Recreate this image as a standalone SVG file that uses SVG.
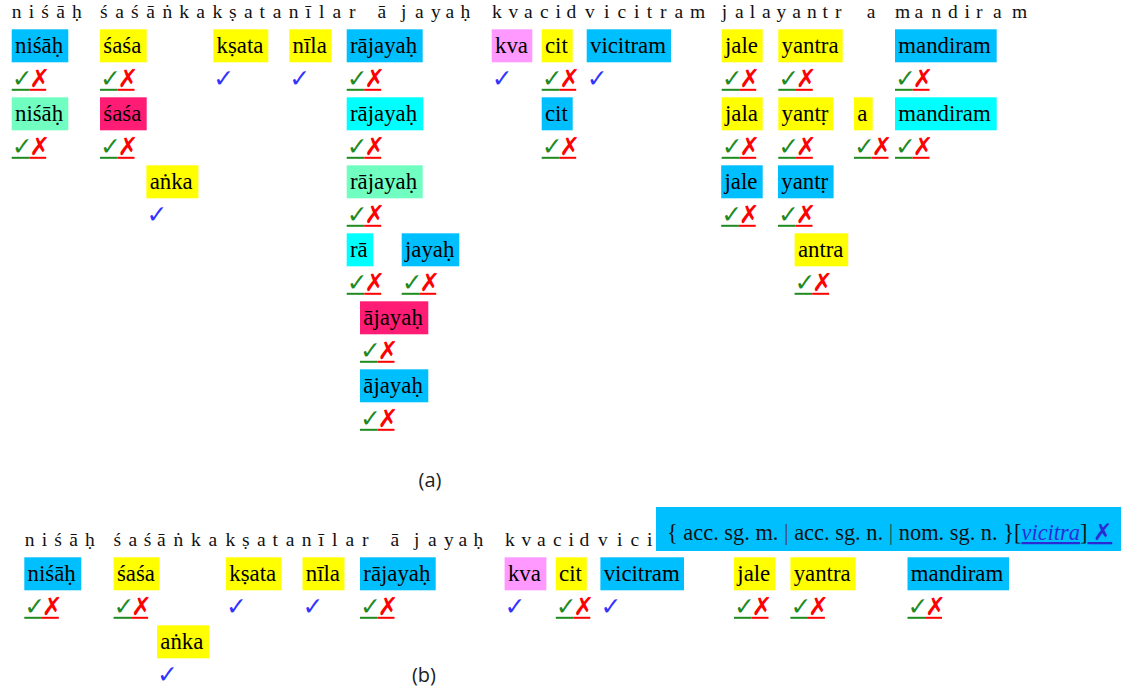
<svg xmlns="http://www.w3.org/2000/svg" xmlns:xlink="http://www.w3.org/1999/xlink" width="1121" height="695" viewBox="0 0 1121 695" font-family="'Liberation Serif','Times New Roman',serif">
<style>
.top{font-family:"Liberation Serif","Times New Roman",serif;font-size:19.5px;fill:#111}
text.wt{font-family:"Liberation Serif","Times New Roman",serif;font-size:22.8px;fill:#000;font-weight:normal}
.b{fill:#00BFFF}.y{fill:#FFFF00}.aq{fill:#70FFC0}.pk{fill:#FF99FF}.dp{fill:#FF1C74}.cy{fill:#00FFFF}
.ck{font-family:"DejaVu Sans",sans-serif;font-size:25px;fill:#1f8a1f}
.xx{font-family:"DejaVu Sans",sans-serif;font-size:25px;fill:#ff0000;font-weight:bold}
.bc{font-family:"DejaVu Sans",sans-serif;font-size:25px;fill:#3333ff}
.ug{stroke:#1f8a1f;stroke-width:2}.ur{stroke:#ff0000;stroke-width:2}
.lbl{font-family:"Open Sans","Liberation Sans",sans-serif;font-size:20px;fill:#222;text-anchor:middle}
.pop{font-family:"Liberation Serif","Times New Roman",serif;font-size:22.4px;fill:#111}
.lnk{fill:#2b2bd6;font-style:italic;text-decoration:underline}
.bar{fill:#444}
</style>
<defs>
<g id="cx"><text class="ck" x="0" y="0">✓</text><text class="xx" x="17.5" y="0">✗</text><line class="ug" x1="0" y1="2.5" x2="17.6" y2="2.5"/><line class="ur" x1="17.6" y1="2.5" x2="34.5" y2="2.5"/></g>
<g id="cb"><text class="bc" x="0" y="0">✓</text></g>
</defs>
<rect width="1121" height="695" fill="#fff"/>

<!-- (a) -->
<g id="a-sentence">
<text class="top" y="18.3"><tspan x="11.7 28.7 41.3 56.2 72">niśāḥ</tspan><tspan x="100 115.2 131.1 146.3 162.5 179.3 196.2 212.6 229.1 244 259.6 272.7 288.8 305.6 319 332.5 349">śaśāṅkakṣatanīlar</tspan><tspan x="377.5">ā</tspan><tspan x="401 415 431 445.5 460.5">jayaḥ</tspan><tspan x="492 508.5 524 540 555.5 566.5 585 604 617.5 634 646.7 660 674.5 690">kvacidvicitram</tspan><tspan x="721.7 735 749.7 762 776.5 792.3 807 822.5 835">jalayantr</tspan><tspan x="866.7">a</tspan><tspan x="895 914.5 931.5 948 964.5 976 993 1012">mandiram</tspan></text>
</g>

<g id="a-r1-nisah"><rect class="b" x="11.7" y="29.3" width="56.6" height="33"/><text class="wt" x="15" y="53.3">niśāḥ</text><use xlink:href="#cx" x="11.7" y="87.3"/></g>
<g id="a-r1-sasa"><rect class="y" x="100" y="29.3" width="46.7" height="33"/><text class="wt" x="103.3" y="53.3">śaśa</text><use xlink:href="#cx" x="100" y="87.3"/></g>
<g id="a-r1-ksata"><rect class="y" x="213.3" y="29.3" width="55" height="33"/><text class="wt" x="216.6" y="53.3">kṣata</text><use xlink:href="#cb" x="213.3" y="87.3"/></g>
<g id="a-r1-nila"><rect class="y" x="289.3" y="29.3" width="42.4" height="33"/><text class="wt" x="292.6" y="53.3">nīla</text><use xlink:href="#cb" x="289.3" y="87.3"/></g>
<g id="a-r1-rajayah"><rect class="b" x="346.7" y="29.3" width="76" height="33"/><text class="wt" x="350" y="53.3">rājayaḥ</text><use xlink:href="#cx" x="346.7" y="87.3"/></g>
<g id="a-r1-kva"><rect class="pk" x="491.7" y="29.3" width="40.6" height="33"/><text class="wt" x="495" y="53.3">kva</text><use xlink:href="#cb" x="491.7" y="87.3"/></g>
<g id="a-r1-cit"><rect class="y" x="541.7" y="29.3" width="31" height="33"/><text class="wt" x="545" y="53.3">cit</text><use xlink:href="#cx" x="541.7" y="87.3"/></g>
<g id="a-r1-vicitram"><rect class="b" x="586.7" y="29.3" width="84.3" height="33"/><text class="wt" x="590" y="53.3">vicitram</text><use xlink:href="#cb" x="586.7" y="87.3"/></g>
<g id="a-r1-jale"><rect class="y" x="721.7" y="29.3" width="41" height="33"/><text class="wt" x="725" y="53.3">jale</text><use xlink:href="#cx" x="721.7" y="87.3"/></g>
<g id="a-r1-yantra"><rect class="y" x="778.3" y="29.3" width="64.4" height="33"/><text class="wt" x="781.6" y="53.3">yantra</text><use xlink:href="#cx" x="778.3" y="87.3"/></g>
<g id="a-r1-mandiram"><rect class="b" x="895" y="29.3" width="101.7" height="33"/><text class="wt" x="898.3" y="53.3">mandiram</text><use xlink:href="#cx" x="895" y="87.3"/></g>

<g id="a-r2-nisah"><rect class="aq" x="11.7" y="97.3" width="56.6" height="33"/><text class="wt" x="15" y="121.3">niśāḥ</text><use xlink:href="#cx" x="11.7" y="155.3"/></g>
<g id="a-r2-sasa"><rect class="dp" x="100" y="97.3" width="46.7" height="33"/><text class="wt" x="103.3" y="121.3">śaśa</text><use xlink:href="#cx" x="100" y="155.3"/></g>
<g id="a-r2-rajayah"><rect class="cy" x="346.7" y="97.3" width="76.6" height="33"/><text class="wt" x="350" y="121.3">rājayaḥ</text><use xlink:href="#cx" x="346.7" y="155.3"/></g>
<g id="a-r2-cit"><rect class="b" x="541.7" y="97.3" width="31" height="33"/><text class="wt" x="545" y="121.3">cit</text><use xlink:href="#cx" x="541.7" y="155.3"/></g>
<g id="a-r2-jala"><rect class="y" x="721.7" y="97.3" width="41" height="33"/><text class="wt" x="725" y="121.3">jala</text><use xlink:href="#cx" x="721.7" y="155.3"/></g>
<g id="a-r2-yantr"><rect class="y" x="778.3" y="97.3" width="55" height="33"/><text class="wt" x="781.6" y="121.3">yantṛ</text><use xlink:href="#cx" x="778.3" y="155.3"/></g>
<g id="a-r2-a"><rect class="y" x="854" y="97.3" width="18.7" height="33"/><text class="wt" x="857.3" y="121.3">a</text><use xlink:href="#cx" x="854" y="155.3"/></g>
<g id="a-r2-mandiram"><rect class="cy" x="895" y="97.3" width="101.7" height="33"/><text class="wt" x="898.3" y="121.3">mandiram</text><use xlink:href="#cx" x="895" y="155.3"/></g>

<g id="a-r3-anka"><rect class="y" x="146.4" y="165.3" width="52" height="33"/><text class="wt" x="149.7" y="189.3">aṅka</text><use xlink:href="#cb" x="146.4" y="223.3"/></g>
<g id="a-r3-rajayah"><rect class="aq" x="346.7" y="165.3" width="76" height="33"/><text class="wt" x="350" y="189.3">rājayaḥ</text><use xlink:href="#cx" x="346.7" y="223.3"/></g>
<g id="a-r3-jale"><rect class="b" x="721.2" y="165.3" width="41.5" height="33"/><text class="wt" x="724.5" y="189.3">jale</text><use xlink:href="#cx" x="721.2" y="223.3"/></g>
<g id="a-r3-yantr"><rect class="b" x="778" y="165.3" width="55.6" height="33"/><text class="wt" x="781.3" y="189.3">yantṛ</text><use xlink:href="#cx" x="778" y="223.3"/></g>

<g id="a-r4-ra"><rect class="cy" x="346.7" y="233.3" width="26.6" height="33"/><text class="wt" x="350" y="257.3">rā</text><use xlink:href="#cx" x="346.7" y="291.3"/></g>
<g id="a-r4-jayah"><rect class="b" x="401.7" y="233.3" width="57.6" height="33"/><text class="wt" x="405" y="257.3">jayaḥ</text><use xlink:href="#cx" x="401.7" y="291.3"/></g>
<g id="a-r4-antra"><rect class="y" x="794.6" y="233.3" width="53.6" height="33"/><text class="wt" x="797.9" y="257.3">antra</text><use xlink:href="#cx" x="794.6" y="291.3"/></g>

<g id="a-r5-ajayah"><rect class="dp" x="360" y="301.3" width="68.3" height="33"/><text class="wt" x="363.3" y="325.3">ājayaḥ</text><use xlink:href="#cx" x="360" y="359.3"/></g>
<g id="a-r6-ajayah"><rect class="b" x="360" y="369.3" width="68.3" height="33"/><text class="wt" x="363.3" y="393.3">ājayaḥ</text><use xlink:href="#cx" x="360" y="427.3"/></g>

<text id="label-a" class="lbl" x="430" y="487">(a)</text>

<!-- (b) -->
<g id="b-sentence">
<text class="top" y="546.3"><tspan x="24.7 41.7 54.3 69.2 85">niśāḥ</tspan><tspan x="113.6 128.4 143.8 157 173.5 191 208.5 225.6 242.1 257 272.6 285.7 301.8 318.6 332 345.5 362">śaśāṅkakṣatanīlar</tspan><tspan x="390.5">ā</tspan><tspan x="414 428 444 458.5 473.5">jayaḥ</tspan><tspan x="505 521.5 537 553 568.5 579.5 598 617 630.5 647">kvacidvici</tspan></text>
</g>

<g id="b-r1-nisah"><rect class="b" x="24.3" y="557.3" width="57" height="33"/><text class="wt" x="27.6" y="581.3">niśāḥ</text><use xlink:href="#cx" x="24.3" y="615.3"/></g>
<g id="b-r1-sasa"><rect class="y" x="113.6" y="557.3" width="46" height="33"/><text class="wt" x="116.9" y="581.3">śaśa</text><use xlink:href="#cx" x="113.6" y="615.3"/></g>
<g id="b-r1-ksata"><rect class="y" x="226" y="557.3" width="55.4" height="33"/><text class="wt" x="229.3" y="581.3">kṣata</text><use xlink:href="#cb" x="226" y="615.3"/></g>
<g id="b-r1-nila"><rect class="y" x="302.5" y="557.3" width="42" height="33"/><text class="wt" x="305.8" y="581.3">nīla</text><use xlink:href="#cb" x="302.5" y="615.3"/></g>
<g id="b-r1-rajayah"><rect class="b" x="360" y="557.3" width="75.7" height="33"/><text class="wt" x="363.3" y="581.3">rājayaḥ</text><use xlink:href="#cx" x="360" y="615.3"/></g>
<g id="b-r1-kva"><rect class="pk" x="504.6" y="557.3" width="41.8" height="33"/><text class="wt" x="507.9" y="581.3">kva</text><use xlink:href="#cb" x="504.6" y="615.3"/></g>
<g id="b-r1-cit"><rect class="y" x="555.8" y="557.3" width="31" height="33"/><text class="wt" x="559.1" y="581.3">cit</text><use xlink:href="#cx" x="555.8" y="615.3"/></g>
<g id="b-r1-vicitram"><rect class="b" x="600.4" y="557.3" width="83.6" height="33"/><text class="wt" x="603.7" y="581.3">vicitram</text><use xlink:href="#cb" x="600.4" y="615.3"/></g>
<g id="b-r1-jale"><rect class="y" x="734" y="557.3" width="41.4" height="33"/><text class="wt" x="737.3" y="581.3">jale</text><use xlink:href="#cx" x="734" y="615.3"/></g>
<g id="b-r1-yantra"><rect class="y" x="790.4" y="557.3" width="65.3" height="33"/><text class="wt" x="793.7" y="581.3">yantra</text><use xlink:href="#cx" x="790.4" y="615.3"/></g>
<g id="b-r1-mandiram"><rect class="b" x="907.5" y="557.3" width="101.5" height="33"/><text class="wt" x="910.8" y="581.3">mandiram</text><use xlink:href="#cx" x="907.5" y="615.3"/></g>
<g id="b-r2-anka"><rect class="y" x="157" y="625.3" width="52" height="33"/><text class="wt" x="160.3" y="649.3">aṅka</text><use xlink:href="#cb" x="157" y="683.3"/></g>

<g id="b-popup"><rect class="b" x="656" y="507" width="465" height="44"/><text class="pop" x="667" y="540">{ acc. sg. m. <tspan class="bar">|</tspan> acc. sg. n. <tspan class="bar">|</tspan> nom. sg. n. }[<tspan class="lnk">vicitra</tspan>]<tspan style="fill:#2b2bd6;text-decoration:underline"> </tspan><tspan style="fill:#2b2bd6;text-decoration:underline;font-family:'DejaVu Sans',sans-serif;font-weight:bold;font-size:23px">✗</tspan></text></g>

<text id="label-b" class="lbl" x="424" y="682">(b)</text>
</svg>
